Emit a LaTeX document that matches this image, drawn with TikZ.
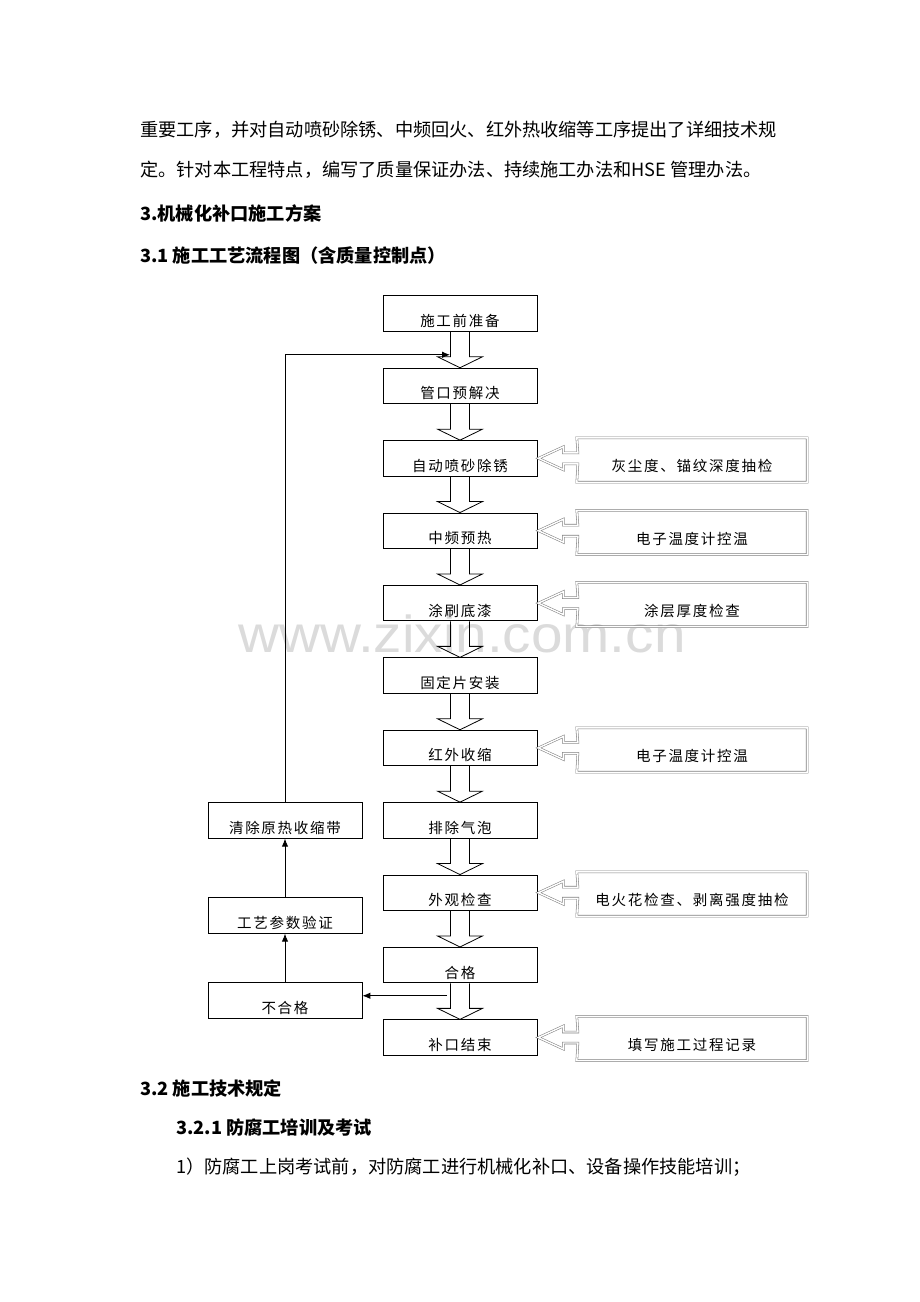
\documentclass[tikz,border=0pt]{standalone}
\usepackage{fontspec}
\usetikzlibrary{arrows.meta,calc}
\newfontfamily\cjk{Noto Sans CJK SC}
\newfontfamily\cjkbx[LetterSpace=12]{Noto Sans CJK SC}
\newfontfamily\wmfont{Liberation Sans}
\begin{document}
\begin{tikzpicture}[x=1pt,y=-1pt,
  mainbox/.style={draw, line width=0.8pt, minimum width=154pt, minimum height=35.5pt, inner sep=0pt,
     text height=26pt, text depth=0pt, font=\cjkbx\fontsize{14.5}{16}\selectfont},
  chkbox/.style={minimum width=230pt, minimum height=44pt, inner sep=0pt,
     text height=23pt, text depth=0pt, font=\cjkbx\fontsize{14.5}{16}\selectfont},
  blk/.style={line width=0.8pt},
  gblk/.style={draw=gray, line width=0.55pt, double=white, double distance=1.4pt, line join=miter},
  conn/.style={line width=0.9pt, -{Latex[length=8pt,width=6.5pt]}},
  body/.style={anchor=base west, inner sep=0pt, font=\cjk\fontsize{18.2}{20}\selectfont},
  head/.style={anchor=base west, inner sep=0pt, font=\cjk\bfseries\fontsize{18.2}{20}\selectfont},
  wm/.style={anchor=base, inner sep=0pt, text=gray!28, font=\wmfont\fontsize{52}{56}\selectfont}
]
\fill[white] (0,0) rectangle (920,1302);
\useasboundingbox (0,0) rectangle (920,1302);

% watermark
\node[wm] (wmk) at (462,652) {\scalebox{1.09}[1]{www.zixin.com.cn}};

% body text
\node[body] (p1) at (140,136) {重要工序，并对自动喷砂除锈、中频回火、红外热收缩等工序提出了详细技术规};
\node[body] (p2) at (140,176) {定。针对本工程特点，编写了质量保证办法、持续施工办法和HSE 管理办法。};
\node[head] (h3) at (140,220) {3.机械化补口施工方案};
\node[head] (h31) at (140,262) {3.1 施工工艺流程图（含质量控制点）};
\node[head] (h32) at (140,1095) {3.2 施工技术规定};
\node[head] (h321) at (176,1134) {3.2.1 防腐工培训及考试};
\node[body] (p3) at (176,1173) {1）防腐工上岗考试前，对防腐工进行机械化补口、设备操作技能培训；};

% main column
\node[mainbox] (A) at (460,313.5) {施工前准备};
\node[mainbox] (B) at (460,385.9) {管口预解决};
\node[mainbox] (C) at (460,458.3) {自动喷砂除锈};
\node[mainbox] (D) at (460,530.7) {中频预热};
\node[mainbox] (E) at (460,603.1) {涂刷底漆};
\node[mainbox] (F) at (460,675.5) {固定片安装};
\node[mainbox] (G) at (460,747.9) {红外收缩};
\node[mainbox] (H) at (460,820.3) {排除气泡};
\node[mainbox] (I) at (460,892.7) {外观检查};
\node[mainbox] (J) at (460,965.1) {合格};
\node[mainbox] (K) at (460,1037.5) {补口结束};

% left column
\node[mainbox] (clr) at (285,820.5) {清除原热收缩带};
\node[mainbox] (gy) at (285,915.5) {工艺参数验证};
\node[mainbox] (bhg) at (285,1000.5) {不合格};

% block arrows down
\foreach \u/\v in {A/B,B/C,C/D,D/E,E/F,F/G,G/H,H/I,I/J,J/K}{
  \draw[blk] ([xshift=-9.5pt]\u.south) -- ([shift={(-9.5,-11)}]\v.north)
    -- ([shift={(-22.5,-11)}]\v.north) -- (\v.north) -- ([shift={(22.5,-11)}]\v.north)
    -- ([shift={(9.5,-11)}]\v.north) -- ([xshift=9.5pt]\u.south);
}

% check boxes
\node[chkbox] (R1) at (692,460) {灰尘度、锚纹深度抽检};
\node[chkbox] (R2) at (692,532.5) {电子温度计控温};
\node[chkbox] (R3) at (692,604.5) {涂层厚度检查};
\node[chkbox] (R4) at (692,750) {电子温度计控温};
\node[chkbox] (R5) at (692,894) {电火花检查、剥离强度抽检};
\node[chkbox] (R6) at (692,1038.5) {填写施工过程记录};

\foreach \m/\r in {C/R1,D/R2,E/R3,G/R4,I/R5,K/R6}{
  \draw[gblk] ([shift={(40.5,-5.5)}]\m.east) -- ([shift={(26,-5.5)}]\m.east)
    -- ([shift={(26,-11.5)}]\m.east) -- ([xshift=1pt]\m.east) -- ([shift={(26,11.5)}]\m.east)
    -- ([shift={(26,5.5)}]\m.east) -- ([shift={(40.5,5.5)}]\m.east)
    -- (\r.south west) -- (\r.south east) -- (\r.north east) -- (\r.north west) -- cycle;
}

% feedback connectors
\coordinate (fb) at ([shift={(-10,-13)}]B.north);
\coordinate (ng) at ([shift={(-13,12.5)}]J.south);
\draw[conn] (ng) -- (ng -| bhg.east);
\draw[conn] (bhg.north) -- (gy.south);
\draw[conn] (gy.north) -- (clr.south);
\draw[conn] (clr.north) |- (fb);
\end{tikzpicture}
\end{document}
